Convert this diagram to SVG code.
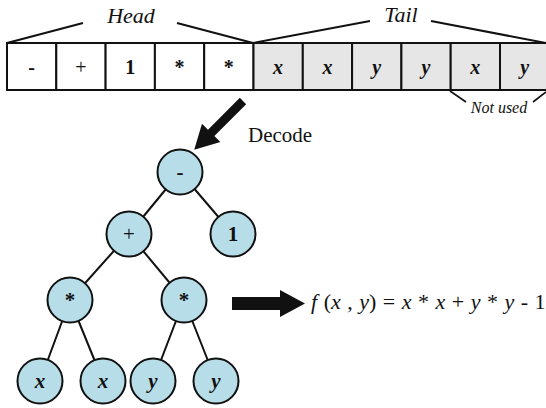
<svg xmlns="http://www.w3.org/2000/svg" width="546" height="408" viewBox="0 0 546 408">
<defs>
<circle id="nodeShape" r="22.5" fill="#b7dde8" stroke="#111" stroke-width="2"/>
</defs>
<g id="chromosome">
<g stroke="#111" stroke-width="2" fill="#fff">
<rect x="7" y="43" width="49.3" height="47"/>
<rect x="56.3" y="43" width="49.3" height="47"/>
<rect x="105.6" y="43" width="49.3" height="47"/>
<rect x="154.9" y="43" width="49.3" height="47"/>
<rect x="204.2" y="43" width="49.3" height="47"/>
</g>
<g stroke="#111" stroke-width="2" fill="#e6e6e6">
<rect x="253.5" y="43" width="49.3" height="47"/>
<rect x="302.8" y="43" width="49.3" height="47"/>
<rect x="352.1" y="43" width="49.3" height="47"/>
<rect x="401.4" y="43" width="49.3" height="47"/>
<rect x="450.7" y="43" width="49.3" height="47"/>
<rect x="500" y="43" width="49.3" height="47"/>
</g>
<text font-family="Liberation Serif" font-size="20" text-anchor="middle" fill="#111" x="31.6" y="74" font-weight="bold">-</text>
<text font-family="Liberation Serif" font-size="20" text-anchor="middle" fill="#111" x="80.9" y="74">+</text>
<text font-family="Liberation Serif" font-size="20" text-anchor="middle" fill="#111" x="130.2" y="74" font-weight="bold">1</text>
<text font-family="Liberation Serif" font-size="20" text-anchor="middle" fill="#111" x="179.5" y="74" font-weight="bold">*</text>
<text font-family="Liberation Serif" font-size="20" text-anchor="middle" fill="#111" x="228.8" y="74" font-weight="bold">*</text>
<text font-family="Liberation Serif" font-size="20" text-anchor="middle" fill="#111" font-weight="bold" font-style="italic" x="278.1" y="74">x</text>
<text font-family="Liberation Serif" font-size="20" text-anchor="middle" fill="#111" font-weight="bold" font-style="italic" x="327.4" y="74">x</text>
<text font-family="Liberation Serif" font-size="20" text-anchor="middle" fill="#111" font-weight="bold" font-style="italic" x="376.7" y="74">y</text>
<text font-family="Liberation Serif" font-size="20" text-anchor="middle" fill="#111" font-weight="bold" font-style="italic" x="426" y="74">y</text>
<text font-family="Liberation Serif" font-size="20" text-anchor="middle" fill="#111" font-weight="bold" font-style="italic" x="475.3" y="74">x</text>
<text font-family="Liberation Serif" font-size="20" text-anchor="middle" fill="#111" font-weight="bold" font-style="italic" x="524.6" y="74">y</text>
</g>
<g id="labels">
<path fill="none" stroke="#111" stroke-width="2" d="M7,43 L83,23 M177,23 L253,43 M253,43 L370,21 M431,21 L546,43"/>
<text font-family="Liberation Serif" font-style="italic" text-anchor="middle" fill="#111" x="131" y="23" font-size="22">Head</text>
<text font-family="Liberation Serif" font-style="italic" text-anchor="middle" fill="#111" x="401" y="22" font-size="22">Tail</text>
<path fill="none" stroke="#111" stroke-width="1.6" d="M450,91 L466,102 M546,92 L533,102"/>
<text font-family="Liberation Serif" font-style="italic" text-anchor="middle" fill="#111" x="499" y="113" font-size="16">Not used</text>
</g>
<g id="decode-arrow">
<path fill="#111" transform="translate(243,101) rotate(135)" d="M0,-4.5 L45,-4.5 L45,-13 L69,0 L45,13 L45,4.5 L0,4.5 Z"/>
<text font-family="Liberation Serif" fill="#111" x="248" y="142" font-size="21">Decode</text>
</g>
<g id="connectors" stroke="#111" stroke-width="2" fill="none">
<line x1="180" y1="172" x2="129" y2="234"/>
<line x1="180" y1="172" x2="233" y2="234"/>
<line x1="129" y1="234" x2="70" y2="300"/>
<line x1="129" y1="234" x2="184" y2="300"/>
<line x1="70" y1="300" x2="40" y2="381"/>
<line x1="70" y1="300" x2="103" y2="381"/>
<line x1="184" y1="300" x2="153" y2="381"/>
<line x1="184" y1="300" x2="216" y2="381"/>
</g>
<g id="n-minus"><use href="#nodeShape" x="180" y="172"/><text font-family="Liberation Serif" font-size="21" text-anchor="middle" fill="#111" x="180" y="179" font-weight="bold">-</text></g>
<g id="n-plus"><use href="#nodeShape" x="129" y="234"/><text font-family="Liberation Serif" font-size="21" text-anchor="middle" fill="#111" x="129" y="241">+</text></g>
<g id="n-one"><use href="#nodeShape" x="233" y="234"/><text font-family="Liberation Serif" font-size="21" text-anchor="middle" fill="#111" x="233" y="241" font-weight="bold">1</text></g>
<g id="n-mul1"><use href="#nodeShape" x="70" y="300"/><text font-family="Liberation Serif" font-size="21" text-anchor="middle" fill="#111" x="70" y="307" font-weight="bold">*</text></g>
<g id="n-mul2"><use href="#nodeShape" x="184" y="300"/><text font-family="Liberation Serif" font-size="21" text-anchor="middle" fill="#111" x="184" y="307" font-weight="bold">*</text></g>
<g id="n-x1"><use href="#nodeShape" x="40" y="381"/><text font-family="Liberation Serif" font-size="21" text-anchor="middle" fill="#111" font-weight="bold" font-style="italic" x="40" y="388">x</text></g>
<g id="n-x2"><use href="#nodeShape" x="103" y="381"/><text font-family="Liberation Serif" font-size="21" text-anchor="middle" fill="#111" font-weight="bold" font-style="italic" x="103" y="388">x</text></g>
<g id="n-y1"><use href="#nodeShape" x="153" y="381"/><text font-family="Liberation Serif" font-size="21" text-anchor="middle" fill="#111" font-weight="bold" font-style="italic" x="153" y="388">y</text></g>
<g id="n-y2"><use href="#nodeShape" x="216" y="381"/><text font-family="Liberation Serif" font-size="21" text-anchor="middle" fill="#111" font-weight="bold" font-style="italic" x="216" y="388">y</text></g>
<g id="result">
<path fill="#111" d="M232,297 L280,297 L280,290 L305,303.5 L280,317 L280,310 L232,310 Z"/>
<text font-family="Liberation Serif" fill="#111" x="311" y="309" font-size="22" word-spacing="1"><tspan font-style="italic">f</tspan> (<tspan font-style="italic">x</tspan> , <tspan font-style="italic">y</tspan>) = <tspan font-style="italic">x</tspan> * <tspan font-style="italic">x</tspan> + <tspan font-style="italic">y</tspan> * <tspan font-style="italic">y</tspan> - 1</text>
</g>
</svg>
